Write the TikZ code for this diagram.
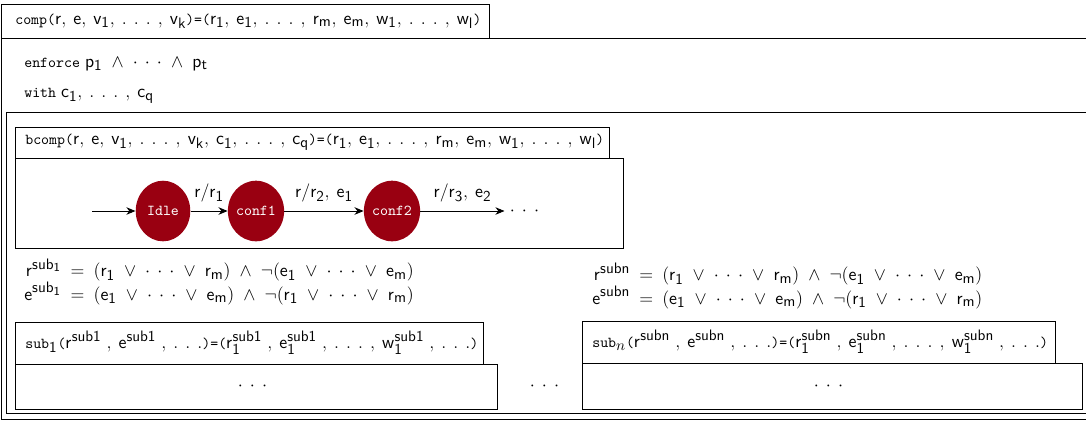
\documentclass[tikz,border=0pt]{standalone}
\usepackage{amsmath}
\usetikzlibrary{arrows.meta,shapes.geometric}
\DeclareMathSizes{10}{12}{10}{8}
\definecolor{statered}{RGB}{153,0,17}
\tikzset{
  state/.style={ellipse, fill=statered, text=white, minimum width=36pt, minimum height=40pt, inner sep=0pt, font=\ttfamily},
  trans/.style={-{Stealth[length=6pt,width=5pt]}, line width=0.6pt},
  boxline/.style={line width=0.6pt},
  txt/.style={anchor=west, inner sep=0pt}
}
\thinmuskip=7mu
\medmuskip=9mu
\thickmuskip=9mu
\newcommand{\supcomma}{\mkern5mu,}
\begin{document}
\begin{tikzpicture}[x=0.66pt, y=-0.66pt]
    \useasboundingbox (0, 0) rectangle (1086, 420);
    % outer frames
    \draw [boxline] (1100, 38) -- (1, 38) -- (1, 419) -- (1100, 419);
    \draw [boxline] (1100, 112) -- (6, 112) -- (6, 413) -- (1100, 413);
    \draw [boxline] (1, 4) rectangle (489, 38);
    \node [txt] (comp) at (15, 21) {\texttt{comp(}$\mathsf{r, e, v_1, \ldots, v_k}$\texttt{)=(}$\mathsf{r_1, e_1, \ldots, r_m, e_m, w_1, \ldots, w_l}$\texttt{)}};
    \node [txt] (enforce) at (24, 64) {\texttt{enforce} $\mathsf{p_1} \wedge \cdots \wedge \mathsf{p_t}$};
    \node [txt] (with) at (24, 96) {\texttt{with} $\mathsf{c_1, \ldots, c_q}$};
    % bcomp
    \draw [boxline] (15, 127) rectangle (609, 158);
    \draw [boxline] (15, 158) rectangle (623, 248);
    \node [txt] (bcomp) at (25, 142) {\texttt{bcomp(}$\mathsf{r, e, v_1, \ldots, v_k, c_1, \ldots, c_q}$\texttt{)=(}$\mathsf{r_1, e_1, \ldots, r_m, e_m, w_1, \ldots, w_l}$\texttt{)}};
    \node [state] (idle) at (163, 211) {Idle};
    \node [state] (conf1) at (256, 211) {conf1};
    \node [state] (conf2) at (392, 211) {conf2};
    \node (more) at (528, 211) {$\cdots$};
    \coordinate (start) at (92, 211);
    \draw [trans] (start) -- (idle);
    \draw [trans] (idle) -- node [above=2pt] {$\mathsf{r/r_1}$} (conf1);
    \draw [trans] (conf1) -- node [above=2pt] {$\mathsf{r/r_2, e_1}$} (conf2);
    \draw [trans] (conf2) -- node [above=2pt] {$\mathsf{r/r_3, e_2}$} (more);
    % equations
    \node [txt] (eq1) at (24, 282) {$\begin{aligned}
        \mathsf{r^{sub_1}} &= (\mathsf{r_1} \vee \cdots \vee \mathsf{r_m}) \wedge \neg(\mathsf{e_1} \vee \cdots \vee \mathsf{e_m})\\[-4pt]
        \mathsf{e^{sub_1}} &= (\mathsf{e_1} \vee \cdots \vee \mathsf{e_m}) \wedge \neg(\mathsf{r_1} \vee \cdots \vee \mathsf{r_m})
    \end{aligned}$};
    \node [txt] (eqn) at (592, 286) {$\begin{aligned}
        \mathsf{r^{subn}} &= (\mathsf{r_1} \vee \cdots \vee \mathsf{r_m}) \wedge \neg(\mathsf{e_1} \vee \cdots \vee \mathsf{e_m})\\[-4pt]
        \mathsf{e^{subn}} &= (\mathsf{e_1} \vee \cdots \vee \mathsf{e_m}) \wedge \neg(\mathsf{r_1} \vee \cdots \vee \mathsf{r_m})
    \end{aligned}$};
    % sub components
    \draw [boxline] (15, 322) rectangle (483, 364);
    \draw [boxline] (15, 364) rectangle (497, 409);
    \node [txt] (sub1) at (25, 343) {\texttt{sub}$_\mathsf{1}$\texttt{(}$\mathsf{r^{sub1}\supcomma e^{sub1}\supcomma \ldots}$\texttt{)=(}$\mathsf{r_1^{sub1}\supcomma e_1^{sub1}\supcomma \ldots, w_1^{sub1}\supcomma \ldots}$\texttt{)}};
    \node (body1) at (256, 386) {$\cdots$};
    \node (between) at (548, 386) {$\cdots$};
    \draw [boxline] (582, 321) rectangle (1055, 363);
    \draw [boxline] (582, 363) rectangle (1082, 409);
    \node [txt] (subn) at (592, 342) {\texttt{sub}$_n$\texttt{(}$\mathsf{r^{subn}\supcomma e^{subn}\supcomma \ldots}$\texttt{)=(}$\mathsf{r_1^{subn}\supcomma e_1^{subn}\supcomma \ldots, w_1^{subn}\supcomma \ldots}$\texttt{)}};
    \node (bodyn) at (832, 386) {$\cdots$};
\end{tikzpicture}
\end{document}
